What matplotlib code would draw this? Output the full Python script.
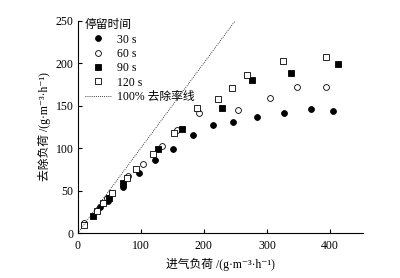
import matplotlib
matplotlib.use("Agg")
import matplotlib.pyplot as plt

plt.rcParams['font.family'] = ['Liberation Serif', 'Noto Sans CJK SC', 'DejaVu Serif']

# data (inlet load, removal load)
x30 = [35, 48, 72, 97, 122, 151, 183, 215, 247, 284, 327, 370, 405]
y30 = [31, 38, 54, 71, 86, 99, 115, 127, 131, 137, 141, 146, 144]
x60 = [10, 47, 80, 104, 133, 158, 192, 254, 305, 348, 393]
y60 = [12, 42, 67, 81, 102, 121, 141, 145, 159, 172, 172]
x90 = [24, 49, 72, 127, 166, 229, 277, 338, 413]
y90 = [20, 41, 59, 99, 122, 147, 180, 188, 199]
x120 = [10, 30, 41, 55, 79, 93, 120, 153, 189, 222, 245, 269, 326, 393]
y120 = [10, 26, 36, 47, 65, 75, 93, 118, 147, 158, 171, 186, 202, 207]
line_x = [0, 252]

labels = ['30 s', '60 s', '90 s', '120 s']

fig = plt.figure(figsize=(4, 2.78), dpi=100)
ax = fig.add_axes([0.194, 0.161, 0.713, 0.765])

ms = 4.2
ax.plot(x30, y30, 'o', ms=ms, mfc='black', mec='black', mew=0.6, label=labels[0])
ax.plot(x60, y60, 'o', ms=ms, mfc='white', mec='black', mew=0.6, label=labels[1])
ax.plot(x90, y90, 's', ms=ms - 0.4, mfc='black', mec='black', mew=0.6, label=labels[2])
ax.plot(x120, y120, 's', ms=ms - 0.4, mfc='white', mec='black', mew=0.6, label=labels[3])
ax.plot(line_x, line_x, ls=(0, (1, 1.5)), color='black', lw=0.6, label='100% 去除率线')

ax.set_xlim(0, 452)
ax.set_ylim(0, 250)
ax.set_xticks([0, 100, 200, 300, 400])
ax.set_yticks([0, 50, 100, 150, 200, 250])
ax.spines['top'].set_visible(False)
ax.spines['right'].set_visible(False)
ax.tick_params(direction='in', length=3, width=0.8, labelsize=8.5, pad=3)
ax.tick_params(axis='x', pad=5)

ax.set_xlabel('进气负荷 /(g·m⁻³·h⁻¹)', fontsize=8.5, labelpad=4)
ax.set_ylabel('去除负荷 /(g·m⁻³·h⁻¹)', fontsize=8.5, labelpad=3)

leg = ax.legend(loc='upper left', bbox_to_anchor=(0.0, 1.04), frameon=False,
                title='停留时间', fontsize=8.5, title_fontsize=8.5,
                handlelength=2.2, handletextpad=0.5, labelspacing=0.2,
                borderaxespad=0.2)
leg._legend_box.align = 'left'

fig.savefig('out.png', dpi=100)
